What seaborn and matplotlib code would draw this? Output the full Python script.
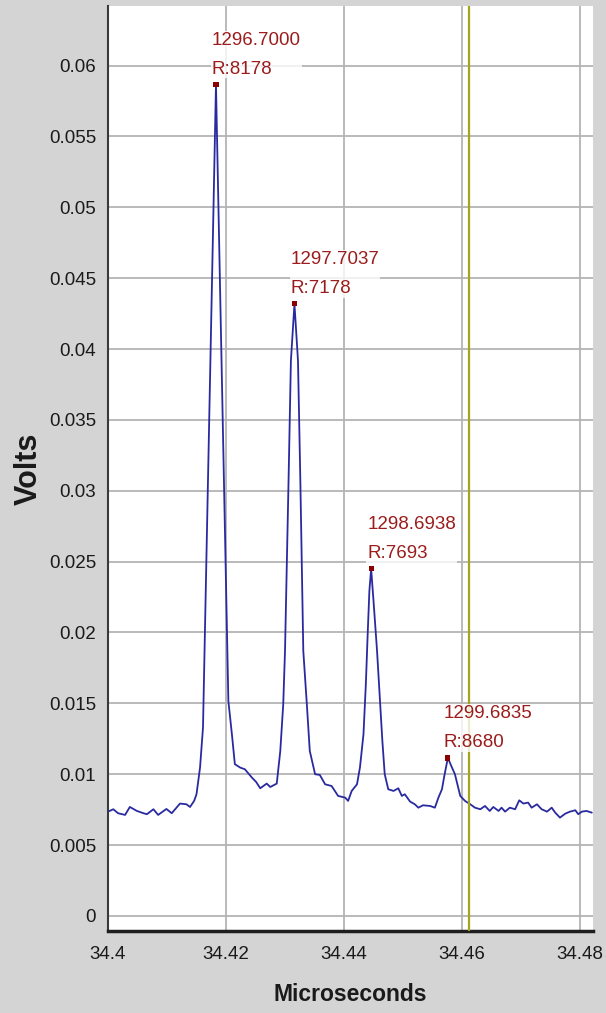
import numpy as np
import pandas as pd
import matplotlib
matplotlib.use("Agg")
import matplotlib.pyplot as plt
import seaborn as sns
from matplotlib import font_manager
from matplotlib.ticker import MultipleLocator, FuncFormatter

# ---------------- data ----------------
time_us = [34.4000, 34.4009, 34.4017, 34.4029, 34.4037, 34.4049, 34.4060, 34.4066,
           34.4077, 34.4085, 34.4099, 34.4108, 34.4122, 34.4133, 34.4139, 34.4146,
           34.4150, 34.4156, 34.4161, 34.4183, 34.4204, 34.4210, 34.4215, 34.4224,
           34.4232, 34.4244, 34.4251, 34.4258, 34.4269, 34.4275, 34.4286, 34.4292,
           34.4297, 34.4300, 34.4306, 34.4310, 34.4316, 34.4322, 34.4326, 34.4331,
           34.4337, 34.4342, 34.4351, 34.4359, 34.4368, 34.4379, 34.4390, 34.4402,
           34.4407, 34.4413, 34.4422, 34.4427, 34.4433, 34.4437, 34.4440, 34.4443,
           34.4446, 34.4450, 34.4456, 34.4461, 34.4465, 34.4469, 34.4475, 34.4484,
           34.4492, 34.4498, 34.4503, 34.4512, 34.4520, 34.4526, 34.4534, 34.4546,
           34.4554, 34.4560, 34.4566, 34.4570, 34.4576, 34.4583, 34.4588, 34.4597,
           34.4605, 34.4614, 34.4622, 34.4631, 34.4639, 34.4647, 34.4653, 34.4662,
           34.4667, 34.4673, 34.4681, 34.4690, 34.4697, 34.4704, 34.4712, 34.4718,
           34.4727, 34.4735, 34.4744, 34.4752, 34.4758, 34.4766, 34.4775, 34.4783,
           34.4792, 34.4797, 34.4803, 34.4811, 34.4820]
volts = [0.00736, 0.00753, 0.00725, 0.00713, 0.00769, 0.00741, 0.00725, 0.00718,
         0.00753, 0.00713, 0.00755, 0.00725, 0.00793, 0.00788, 0.00769, 0.00812,
         0.00859, 0.01047, 0.01329, 0.05865, 0.01517, 0.01282, 0.01071, 0.01047,
         0.01035, 0.00976, 0.00946, 0.00901, 0.00934, 0.00910, 0.00934, 0.01164,
         0.01494, 0.01870, 0.03070, 0.03917, 0.04319, 0.03917, 0.03070, 0.01870,
         0.01494, 0.01164, 0.01000, 0.00995, 0.00929, 0.00917, 0.00847, 0.00835,
         0.00812, 0.00882, 0.00929, 0.01047, 0.01282, 0.01635, 0.01976, 0.02294,
         0.02449, 0.02223, 0.01870, 0.01517, 0.01235, 0.01000, 0.00894, 0.00882,
         0.00901, 0.00847, 0.00859, 0.00807, 0.00788, 0.00764, 0.00781, 0.00776,
         0.00764, 0.00835, 0.00894, 0.00988, 0.01115, 0.01047, 0.01000, 0.00847,
         0.00812, 0.00788, 0.00764, 0.00753, 0.00776, 0.00741, 0.00769, 0.00741,
         0.00764, 0.00736, 0.00764, 0.00753, 0.00816, 0.00793, 0.00800, 0.00764,
         0.00788, 0.00753, 0.00736, 0.00764, 0.00729, 0.00694, 0.00722, 0.00736,
         0.00746, 0.00718, 0.00736, 0.00741, 0.00729]

peak_time = [34.4183, 34.4316, 34.4446, 34.4576]
peak_volts = [0.05865, 0.04319, 0.02449, 0.01115]
peak_mass = ["1296.7000", "1297.7037", "1298.6938", "1299.6835"]
peak_res = ["R:8178", "R:7178", "R:7693", "R:8680"]

cursor_time = 34.4612

x_ticks = [34.40, 34.42, 34.44, 34.46, 34.48]
y_ticks = [0.0, 0.005, 0.01, 0.015, 0.02, 0.025, 0.03, 0.035, 0.04, 0.045,
           0.05, 0.055, 0.06]

# ---------------- styling ----------------
sns.set_style("white")
FONT = "Liberation Sans"
tick_font = dict(family=FONT, size=13.5)
lab_font = dict(family=FONT, size=13.5)
xlab_font = dict(family=FONT, size=16.5, weight="bold")
ylab_font = dict(family=FONT, size=22, weight="bold")

BG = "#d4d4d4"
LINE = "#2a2aa0"
RED = "#9b1c1c"

fig = plt.figure(figsize=(6.06, 10.13), dpi=100, facecolor=BG)
ax = fig.add_axes([108 / 606, 1 - 931 / 1013, 485 / 606, 925 / 1013])
ax.set_facecolor("white")

df = pd.DataFrame({"t": time_us, "v": volts})
sns.lineplot(data=df, x="t", y="v", ax=ax, color=LINE, lw=1.3,
             sort=False, estimator=None, zorder=3)

pk = pd.DataFrame({"t": peak_time, "v": peak_volts})
sns.scatterplot(data=pk, x="t", y="v", ax=ax, marker="s", s=14,
                color="#8b0000", edgecolor="none", zorder=5)

ax.axvline(cursor_time, color="#a5a51c", lw=1.6, zorder=4)

for t, v, m, r in zip(peak_time, peak_volts, peak_mass, peak_res):
    ax.annotate(f"{m}\n{r}", xy=(t, v), xytext=(-4, 7),
                textcoords="offset pixels", ha="left", va="bottom",
                color=RED, linespacing=1.92, zorder=6,
                bbox=dict(fc="white", ec="none", pad=0.5, alpha=0.8),
                **lab_font)

ax.set_xlim(34.4, 34.4822)
ax.set_ylim(-0.00106, 0.0642)

ax.xaxis.set_minor_locator(MultipleLocator(0.01))
ax.yaxis.set_minor_locator(MultipleLocator(0.0025))
ax.set_xticks(x_ticks)
ax.set_yticks(y_ticks)


def fmt(v, _pos=None):
    s = f"{round(v, 6):.4f}".rstrip("0").rstrip(".")
    return "0" if s in ("-0", "") else s


ax.xaxis.set_major_formatter(FuncFormatter(fmt))
ax.yaxis.set_major_formatter(FuncFormatter(fmt))

ax.grid(True, which="major", color="#b4b4b4", lw=1.3)
ax.set_axisbelow(True)

for side in ("top", "right"):
    ax.spines[side].set_visible(False)
ax.spines["left"].set_color("#3a3a3a")
ax.spines["left"].set_linewidth(1.5)
ax.spines["bottom"].set_color("#1e1e1e")
ax.spines["bottom"].set_linewidth(2.5)

ax.tick_params(axis="both", which="major", direction="out", length=5,
               width=1.2, color="#333333", labelcolor="#1a1a1a")
ax.tick_params(axis="both", which="minor", direction="out", length=4,
               width=1.2, color="#333333")
ax.tick_params(axis="x", which="major", pad=6)
ax.tick_params(axis="y", which="major", pad=3.5)
for lab in ax.get_xticklabels() + ax.get_yticklabels():
    lab.set_fontproperties(font_manager.FontProperties(**tick_font))

ax.set_xlabel("Microseconds", color="#1a1a1a", **xlab_font)
ax.set_ylabel("Volts", color="#1a1a1a", **ylab_font)
ax.xaxis.set_label_coords(0.5, -0.056)
ax.yaxis.set_label_coords(-0.132, 0.5)

fig.savefig("out.png", dpi=100, facecolor=BG)
